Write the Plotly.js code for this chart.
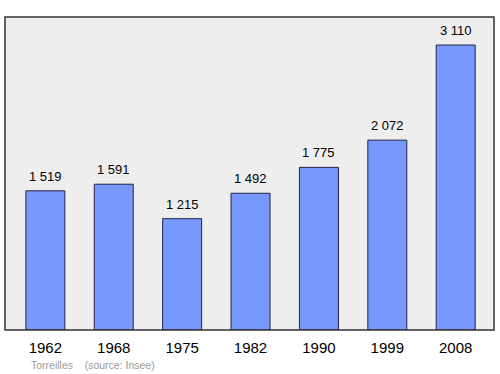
<!DOCTYPE html>
<html>
<head>
<meta charset="utf-8">
<script src="https://cdn.plot.ly/plotly-3.0.1.min.js"></script>
<style>html,body{margin:0;padding:0;background:#fff;}#chart{width:500px;height:374px;}</style>
</head>
<body>
<div id="chart"></div>
<script>
const years = ["1962", "1968", "1975", "1982", "1990", "1999", "2008"];
const population = [1519, 1591, 1215, 1492, 1775, 2072, 3110];
const sourceText = "Torreilles\u00a0\u00a0\u00a0\u00a0(source: Insee)";

function fmt(v) {
  return String(v).replace(/\B(?=(\d{3})+(?!\d))/g, " ");
}

const trace = {
  type: "bar",
  x: years,
  y: population,
  width: 0.57,
  marker: { color: "#7799ff", line: { color: "#222244", width: 1 } },
  hoverinfo: "skip"
};

const annotations = years.map((y, i) => ({
  x: i, y: population[i], xref: "x", yref: "y",
  text: fmt(population[i]), showarrow: false,
  yanchor: "bottom", yshift: 5,
  font: { family: "Liberation Sans, Arial, sans-serif", size: 13, color: "#000" }
}));
annotations.push({
  xref: "paper", yref: "paper", x: 0.05, y: -0.112, xanchor: "left", yanchor: "middle",
  text: sourceText, showarrow: false,
  font: { family: "Liberation Sans, Arial, sans-serif", size: 10.5, color: "#999999" }
});

const layout = {
  width: 500, height: 374,
  margin: { l: 5, r: 6, t: 17, b: 44, pad: 0 },
  paper_bgcolor: "#ffffff",
  plot_bgcolor: "#eeeeee",
  showlegend: false,
  bargap: 0.43,
  xaxis: {
    type: "category",
    range: [-0.59, 6.56],
    showgrid: false, zeroline: false, showline: false,
    ticks: "outside", ticklen: 4, tickcolor: "rgba(0,0,0,0)",
    tickfont: { family: "Liberation Sans, Arial, sans-serif", size: 15, color: "#000" }
  },
  yaxis: {
    range: [0, 3416],
    showgrid: false, zeroline: false, showline: false,
    showticklabels: false, ticks: ""
  },
  shapes: [{
    type: "rect", xref: "paper", yref: "paper", x0: 0, x1: 1, y0: 0, y1: 1,
    line: { color: "#333333", width: 1.5 }, fillcolor: "rgba(0,0,0,0)"
  }],
  annotations: annotations
};

Plotly.newPlot("chart", [trace], layout, { staticPlot: true, displayModeBar: false });
</script>
</body>
</html>
